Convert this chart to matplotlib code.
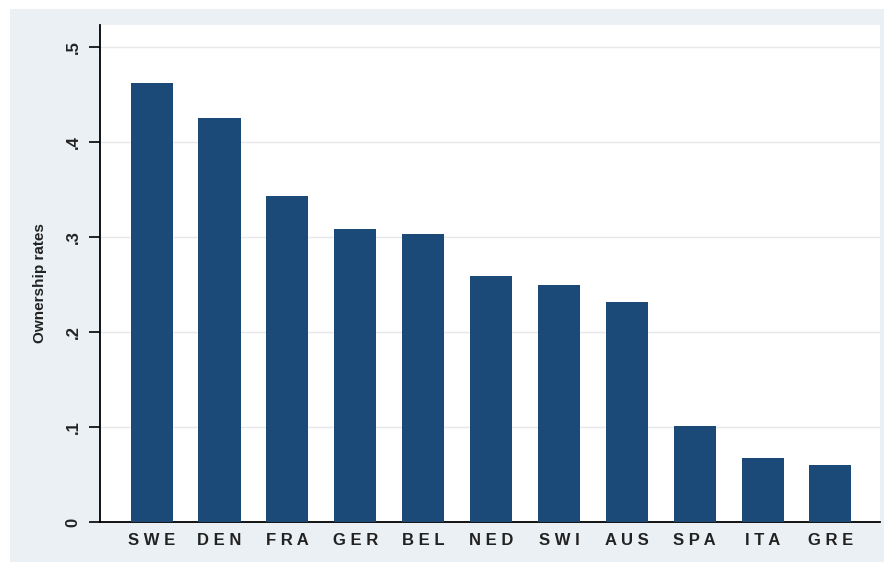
import matplotlib.pyplot as plt
from matplotlib.patches import Rectangle

# data
countries = ['SWE', 'DEN', 'FRA', 'GER', 'BEL', 'NED', 'SWI', 'AUS', 'SPA', 'ITA', 'GRE']
rates = [0.462, 0.425, 0.343, 0.308, 0.303, 0.259, 0.249, 0.231, 0.101, 0.067, 0.060]
yticks = [0, 0.1, 0.2, 0.3, 0.4, 0.5]
ytick_labels = ['0', '.1', '.2', '.3', '.4', '.5']

plt.rcParams['font.family'] = ['Liberation Sans', 'DejaVu Sans']

W, H = 890, 571
fig = plt.figure(figsize=(W / 100, H / 100), dpi=100)
fig.patch.set_facecolor('white')

# light Stata-like outer background, drawn behind the axes
bg = Rectangle((10 / W, 9 / H), 874 / W, 553 / H,
               transform=fig.transFigure, facecolor='#eaf0f4',
               edgecolor='none', zorder=-10)
fig.add_artist(bg)

ax = fig.add_axes([100 / W, (H - 522) / H, 780 / W, 497 / H])
ax.set_zorder(1)
ax.set_facecolor('white')

x = list(range(len(countries)))
ax.bar(x, rates, width=0.62, color='#1b4a78', zorder=3)

ax.set_xlim(-0.76, 10.73)
ax.set_ylim(0, 0.523)

ax.set_yticks(yticks)
ax.set_yticklabels(ytick_labels, rotation=90, va='center', fontsize=12,
                   fontweight='bold', color='#222222')
ax.set_xticks(x)
ax.set_xticklabels([' '.join(c) for c in countries], fontsize=12,
                   fontweight='bold', color='#222222')
ax.tick_params(axis='x', length=0, pad=8)
ax.tick_params(axis='y', length=8, width=1.2, pad=6)

ax.grid(axis='y', color='#e6e9ec', linewidth=1, zorder=0)

for side in ['top', 'right']:
    ax.spines[side].set_visible(False)
for side in ['left', 'bottom']:
    ax.spines[side].set_linewidth(1.3)
    ax.spines[side].set_color('black')

ax.set_ylabel('Ownership rates', fontsize=11, fontweight='bold',
              color='#222222', labelpad=10)
ax.yaxis.set_label_coords(-0.068, 0.48)

fig.savefig('out.png', dpi=100, facecolor=fig.get_facecolor())
